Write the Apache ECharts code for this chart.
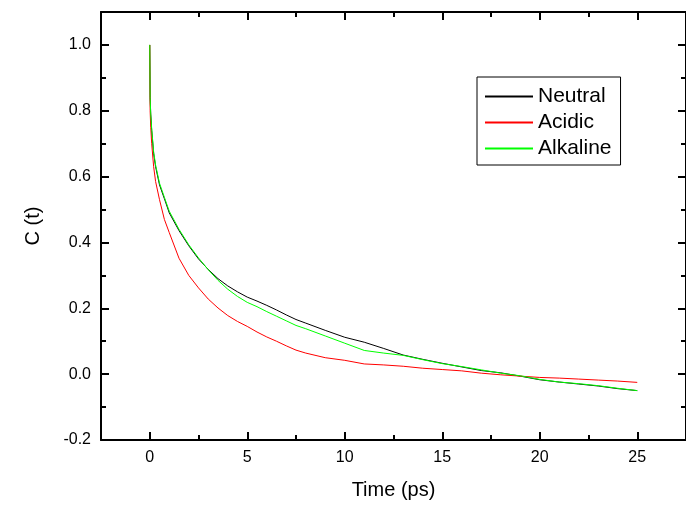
<!DOCTYPE html>
<html>
<head>
<meta charset="utf-8">
<script src="https://cdn.jsdelivr.net/npm/echarts@6/dist/echarts.min.js"></script>
<style>
html,body{margin:0;padding:0;background:#fff;}
#chart{width:686px;height:505px;}
</style>
</head>
<body>
<div id="chart"></div>
<script>
const time = [0, 0.02, 0.05, 0.1, 0.2, 0.3, 0.5, 0.75, 1.0, 1.5, 2.0, 2.5, 3.0, 3.5, 4.0, 4.5, 5.0, 5.5, 6.0, 6.5, 7.0, 7.5, 8.0, 9.0, 10, 11, 12, 13, 14, 15, 16, 17, 18, 19, 20, 21, 22, 23, 24, 25];
const neutral = [1.0, 0.84, 0.79, 0.74, 0.67, 0.63, 0.575, 0.533, 0.49, 0.436, 0.39, 0.35, 0.318, 0.29, 0.268, 0.25, 0.234, 0.222, 0.209, 0.195, 0.18, 0.166, 0.155, 0.133, 0.112, 0.097, 0.078, 0.058, 0.045, 0.033, 0.022, 0.011, 0.004, -0.006, -0.017, -0.024, -0.03, -0.036, -0.044, -0.05];
const acidic = [1.0, 0.80, 0.75, 0.70, 0.63, 0.585, 0.53, 0.47, 0.43, 0.352, 0.30, 0.262, 0.228, 0.201, 0.178, 0.16, 0.145, 0.128, 0.113, 0.10, 0.086, 0.073, 0.064, 0.05, 0.042, 0.031, 0.028, 0.024, 0.018, 0.014, 0.01, 0.003, -0.002, -0.006, -0.01, -0.012, -0.015, -0.018, -0.021, -0.025];
const alkaline = [1.0, 0.84, 0.79, 0.745, 0.675, 0.635, 0.58, 0.537, 0.495, 0.44, 0.393, 0.353, 0.317, 0.285, 0.258, 0.236, 0.218, 0.205, 0.19, 0.176, 0.162, 0.148, 0.138, 0.116, 0.094, 0.072, 0.064, 0.057, 0.044, 0.032, 0.023, 0.013, 0.003, -0.005, -0.016, -0.024, -0.029, -0.035, -0.043, -0.05];
const seriesNames = ['Neutral', 'Acidic', 'Alkaline'];
const seriesColors = ['#000000', '#ff0000', '#00ff00'];
const xMajor = [0, 5, 10, 15, 20, 25];
const xMinor = [2.5, 7.5, 12.5, 17.5, 22.5];
const yMajor = [-0.2, 0.0, 0.2, 0.4, 0.6, 0.8, 1.0];
const yMinor = [-0.1, 0.1, 0.3, 0.5, 0.7, 0.9];
const xTitle = 'Time (ps)';
const yTitle = 'C (t)';

const FONT = '"Liberation Sans", Arial, sans-serif';
const gridRect = {left: 101, top: 12, width: 586, height: 428};
const lineStyle = {color: '#000', width: 2};

function xAx(gi, pos, ticks, len, main) {
  return {
    type: 'value', gridIndex: gi, position: pos, min: -2.5, max: 27.5,
    axisLine: {show: main, onZero: false, lineStyle: lineStyle},
    axisTick: {show: true, inside: true, length: len, customValues: ticks, lineStyle: lineStyle},
    axisLabel: {show: gi === 0, customValues: xMajor, margin: 10, color: '#000', fontSize: 16, fontFamily: FONT},
    splitLine: {show: false},
    name: gi === 0 ? xTitle : '', nameLocation: 'middle', nameGap: 40,
    nameTextStyle: {color: '#000', fontSize: 20, fontFamily: FONT}
  };
}
function yAx(gi, pos, ticks, len, main) {
  return {
    type: 'value', gridIndex: gi, position: pos, min: -0.2, max: 1.1,
    axisLine: {show: main, onZero: false, lineStyle: lineStyle},
    axisTick: {show: true, inside: true, length: len, customValues: ticks, lineStyle: lineStyle},
    axisLabel: {show: gi === 0, customValues: yMajor, margin: 10, color: '#000', fontSize: 16, fontFamily: FONT,
      formatter: v => Number(v).toFixed(1)},
    splitLine: {show: false},
    name: gi === 0 ? yTitle : '', nameLocation: 'middle', nameGap: 58, nameRotate: 90,
    nameTextStyle: {color: '#000', fontSize: 20, fontFamily: FONT}
  };
}

const chart = echarts.init(document.getElementById('chart'), null, {renderer: 'canvas'});
const data = [neutral, acidic, alkaline];
chart.setOption({
  backgroundColor: '#fff',
  animation: false,
  grid: [gridRect, gridRect, gridRect, gridRect],
  xAxis: [
    xAx(0, 'bottom', xMajor, 8, true),
    xAx(1, 'top', xMajor, 8, true),
    xAx(2, 'bottom', xMinor, 5, false),
    xAx(3, 'top', xMinor, 5, false)
  ],
  yAxis: [
    yAx(0, 'left', yMajor, 8, true),
    yAx(1, 'right', yMajor, 8, true),
    yAx(2, 'left', yMinor, 5, false),
    yAx(3, 'right', yMinor, 5, false)
  ],
  legend: {
    orient: 'vertical', left: 477, top: 77,
    data: seriesNames.map(n => ({name: n, icon: 'rect', itemStyle: {color: seriesColors[seriesNames.indexOf(n)]}})),
    itemWidth: 48, itemHeight: 2, itemGap: 5,
    padding: [9, 9, 6, 8],
    borderColor: '#000', borderWidth: 1,
    textStyle: {color: '#000', fontSize: 21, fontFamily: FONT}
  },
  series: seriesNames.map((n, i) => ({
    name: n, type: 'line', xAxisIndex: 0, yAxisIndex: 0,
    data: time.map((t, k) => [t, data[i][k]]),
    showSymbol: false, symbol: 'none',
    lineStyle: {color: seriesColors[i], width: 1},
    itemStyle: {color: seriesColors[i]}
  }))
});
</script>
</body>
</html>
